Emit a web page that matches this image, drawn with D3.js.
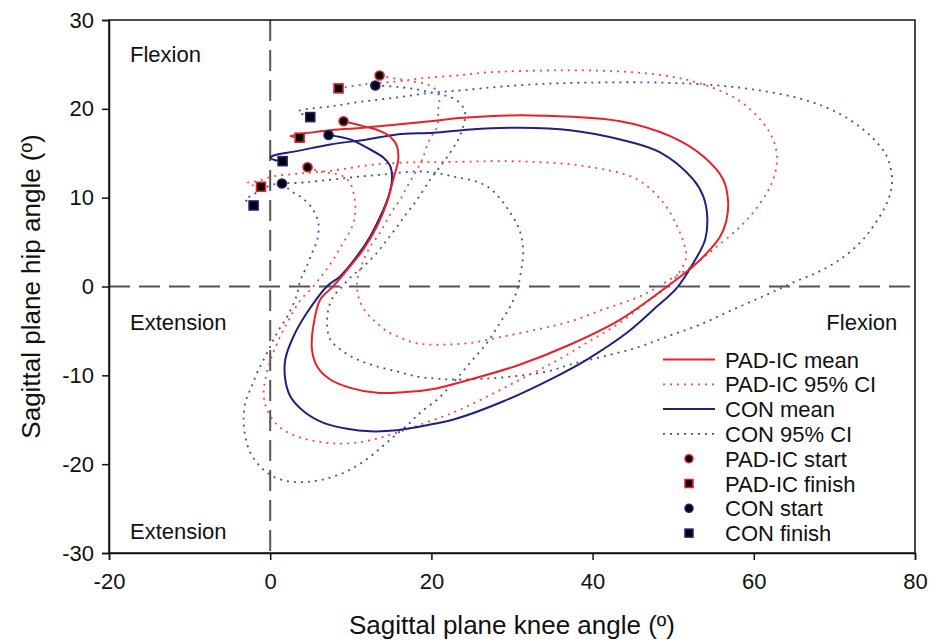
<!DOCTYPE html>
<html>
<head>
<meta charset="utf-8">
<script src="https://cdn.jsdelivr.net/npm/d3@7"></script>
<style>
  body { margin:0; background:#fff; }
  svg text { font-family: "Liberation Sans", Arial, sans-serif; fill:#111; }
</style>
</head>
<body>
<div id="chart-area"></div>
<script>
// knee angle (x), hip angle (y)
var padMean = [[9.10,18.61],[11.55,18.05],[13.65,17.49],[14.90,16.86],[15.73,15.80],[15.89,14.30],[15.73,13.55],[15.27,12.05],[14.49,9.46],[13.25,6.79],[11.55,4.17],[9.93,2.29],[7.82,0.03],[6.21,-1.46],[5.35,-4.47],[5.18,-7.09],[5.80,-8.98],[7.45,-10.47],[9.94,-11.41],[13.25,-11.97],[16.51,-11.90],[19.86,-11.60],[24.82,-10.47],[31.02,-8.78],[37.22,-6.53],[43.43,-3.72],[48.76,-0.34],[52.48,2.27],[54.58,4.17],[55.83,5.63],[56.57,7.32],[56.82,9.46],[56.20,12.05],[53.72,14.67],[49.63,16.93],[43.43,18.61],[32.26,19.26],[23.95,19.00],[19.86,18.61],[15.73,18.24],[11.55,17.87],[7.45,17.60],[2.49,16.93],[3.65,16.75]];

var padUpper = [[13.57,23.76],[15.77,23.37],[17.75,23.09],[19.49,22.75],[20.73,21.96],[20.98,21.06],[20.85,19.93],[20.73,18.02],[20.23,17.23],[19.61,16.22],[18.87,14.30],[18.00,12.84],[17.01,11.26],[16.14,9.80],[15.27,8.67],[14.53,7.54],[13.66,6.08],[12.42,4.50],[11.42,2.59],[10.80,0.79],[10.80,-0.34],[11.05,-1.46],[11.92,-2.93],[13.16,-4.05],[14.53,-5.07],[16.14,-5.74],[17.75,-6.31],[19.49,-6.53],[21.97,-6.53],[25.19,-6.31],[28.91,-5.63],[33.13,-4.84],[37.22,-3.94],[41.32,-2.59],[45.53,-1.24],[47.77,-0.23],[50.00,1.01],[52.48,2.36],[54.96,4.17],[57.94,6.42],[59.92,8.33],[61.66,10.59],[62.40,12.05],[62.90,14.30],[62.40,16.55],[60.79,18.81],[57.94,21.06],[53.72,22.75],[49.63,23.65],[43.43,24.21],[35.12,24.32],[26.93,24.10],[23.95,23.82],[18.62,23.42],[15.77,23.09],[11.55,22.75],[8.48,22.30]];

var padLower = [[4.64,13.43],[6.21,12.95],[7.83,12.73],[9.07,12.39],[9.94,11.60],[10.43,10.13],[10.56,8.33],[10.18,6.76],[9.07,4.95],[7.83,3.04],[6.59,1.46],[5.35,0.00],[3.73,-1.58],[2.12,-4.05],[0.38,-7.43],[-0.61,-10.47],[-0.79,-12.39],[-0.24,-14.19],[1.25,-15.88],[3.36,-16.89],[5.84,-17.45],[8.32,-17.68],[10.80,-17.57],[13.28,-17.12],[15.77,-16.44],[18.62,-15.54],[22.71,-14.19],[26.93,-12.39],[31.02,-10.47],[35.12,-8.56],[39.33,-6.31],[43.43,-4.05],[47.15,-1.46],[49.26,0.00],[50.74,1.58],[51.61,3.27],[51.36,4.73],[50.50,6.76],[48.76,9.46],[45.53,12.05],[39.33,13.51],[31.02,14.08],[22.34,14.02],[16.14,13.93],[12.04,13.63],[7.83,13.06],[3.73,12.73],[0.38,12.39],[-1.60,11.86],[-2.84,11.66],[-2.10,11.37],[-1.14,11.23]];

var conMean = [[7.24,17.06],[9.94,16.55],[12.01,15.62],[14.07,14.49],[14.90,13.55],[15.11,12.05],[14.69,10.17],[13.87,8.30],[12.42,5.66],[10.77,3.41],[8.70,1.16],[7.05,0.03],[4.56,-2.96],[2.90,-5.60],[1.87,-8.22],[1.87,-10.47],[2.49,-12.35],[4.14,-14.04],[6.62,-15.35],[9.53,-16.02],[12.42,-16.30],[15.73,-16.18],[19.86,-15.54],[22.75,-14.98],[28.95,-12.92],[35.15,-10.28],[39.30,-8.22],[44.26,-5.21],[47.56,-2.59],[50.46,-0.15],[52.52,2.67],[53.97,5.29],[54.22,7.92],[53.72,10.17],[52.48,12.05],[48.38,15.09],[43.43,16.55],[37.22,17.60],[31.02,17.87],[24.82,17.68],[20.27,17.31],[15.73,17.12],[12.01,16.55],[7.45,15.99],[3.32,15.24],[0.42,14.75],[0.01,14.49],[0.63,14.22],[1.54,14.11]];

var conUpper = [[13.04,22.63],[15.77,22.47],[18.25,22.18],[19.86,21.85],[21.47,21.56],[22.96,21.06],[23.95,20.16],[24.20,19.37],[23.95,18.02],[23.33,16.55],[22.34,15.09],[21.10,13.51],[19.86,12.05],[18.25,9.80],[17.01,8.33],[15.77,6.76],[14.53,5.29],[13.28,3.83],[11.55,2.25],[9.94,1.01],[8.70,-0.23],[7.83,-1.13],[7.21,-2.59],[7.08,-4.50],[7.45,-5.97],[8.70,-7.09],[10.80,-8.22],[13.28,-9.01],[15.77,-9.57],[18.25,-10.14],[20.48,-10.36],[22.71,-10.47],[26.93,-10.36],[31.02,-10.02],[34.37,-9.57],[37.22,-8.78],[41.32,-7.88],[45.53,-6.87],[49.26,-5.63],[53.35,-4.28],[57.44,-2.59],[61.66,-0.90],[64.88,0.45],[67.86,1.58],[70.71,3.04],[73.19,4.95],[74.81,6.76],[76.54,9.46],[77.16,11.71],[76.67,14.30],[75.68,15.77],[73.57,17.68],[70.34,19.59],[66.12,21.06],[59.92,22.18],[53.72,22.75],[47.52,22.97],[41.32,22.97],[35.12,22.86],[28.91,22.52],[23.95,22.11],[19.86,21.79],[15.77,21.28],[11.55,20.83],[7.45,20.27],[3.49,19.71],[4.97,19.07]];

var conLower = [[1.46,11.60],[2.87,10.59],[3.98,9.97],[5.22,8.78],[5.97,7.21],[5.84,5.29],[5.22,3.83],[4.35,1.91],[3.73,0.68],[3.24,-1.13],[2.12,-3.38],[0.88,-5.18],[-0.36,-7.43],[-1.60,-9.68],[-2.47,-11.60],[-3.09,-13.06],[-3.30,-14.98],[-3.09,-16.89],[-2.47,-18.69],[-1.23,-20.27],[0.38,-21.40],[2.49,-21.96],[4.97,-21.96],[7.45,-21.51],[9.94,-20.61],[12.42,-19.14],[14.90,-17.23],[17.38,-15.31],[18.62,-14.19],[20.73,-12.72],[22.71,-10.81],[24.82,-8.56],[26.93,-6.31],[28.54,-4.05],[29.78,-2.25],[30.65,-0.34],[31.15,1.91],[31.39,3.83],[31.02,6.08],[29.78,8.33],[26.93,11.26],[22.71,12.39],[18.62,12.95],[14.03,12.61],[9.94,12.27],[5.84,11.86],[3.73,11.68],[0.38,11.49],[-0.98,10.92],[-2.47,10.17],[-3.09,9.80],[-2.06,9.12]];

// start / finish markers (upper CI, mean, lower CI)
var padStart  = [[13.57,23.76],[9.10,18.61],[4.64,13.43]];
var padFinish = [[8.48,22.30],[3.65,16.75],[-1.14,11.23]];
var conStart  = [[13.04,22.63],[7.24,17.06],[1.46,11.60]];
var conFinish = [[4.97,19.07],[1.54,14.11],[-2.06,9.12]];

var xTicks = [-20, 0, 20, 40, 60, 80];
var yTicks = [-30, -20, -10, 0, 10, 20, 30];
var regionLabels = [["Flexion",-17.4,25.3,"start"],["Extension",-17.4,-4.95,"start"],["Flexion",77.8,-4.95,"end"],["Extension",-17.4,-28.4,"start"]];
var legendLabels = ["PAD-IC mean","PAD-IC 95% CI","CON mean","CON 95% CI","PAD-IC start","PAD-IC finish","CON start","CON finish"];

var red = "#e8202a", navy = "#20207f", redDot = "#ee4a4a", navyDot = "#4c4ca8";

// set margin
var margin = {left:109, right:15, top:20, bottom:89};
var width = 930 - margin.left - margin.right;
var height = 642 - margin.top - margin.bottom;

var x = d3.scaleLinear().domain([-20,80]).range([0,width]);
var y = d3.scaleLinear().domain([-30,30]).range([height,0]);

var svg = d3.select("#chart-area")
    .append("svg")
    .attr("width", width + margin.left + margin.right)
    .attr("height", height + margin.top + margin.bottom);

var g = svg.append("g")
    .attr("transform","translate(" + margin.left + "," + margin.top + ")");

// zero lines
g.append("line")
  .attr("x1", x(0)).attr("x2", x(0)).attr("y1", 0).attr("y2", height)
  .attr("stroke","#555").attr("stroke-width",2).attr("stroke-dasharray","21,9");
g.append("line")
  .attr("x1", 0).attr("x2", width).attr("y1", y(0)).attr("y2", y(0))
  .attr("stroke","#555").attr("stroke-width",2).attr("stroke-dasharray","21,9");

// curves
var line = d3.line()
    .x(function(d){ return x(d[0]); })
    .y(function(d){ return y(d[1]); })
    .curve(d3.curveCatmullRom.alpha(0.5));

var curves = [
  {data: conUpper, color: navyDot, dash: "2,5", w: 1.8},
  {data: conLower, color: navyDot, dash: "2,5", w: 1.8},
  {data: padUpper, color: redDot, dash: "2,5", w: 1.8},
  {data: padLower, color: redDot, dash: "2,5", w: 1.8},
  {data: conMean, color: navy, dash: null, w: 2},
  {data: padMean, color: red, dash: null, w: 2}
];

g.selectAll("path.curve")
  .data(curves)
  .enter()
  .append("path")
  .attr("class","curve")
  .attr("d", function(d){ return line(d.data); })
  .attr("fill","none")
  .attr("stroke", function(d){ return d.color; })
  .attr("stroke-width", function(d){ return d.w; })
  .attr("stroke-dasharray", function(d){ return d.dash; });

// markers
function circles(data, color){
  g.selectAll(null).data(data).enter().append("circle")
    .attr("cx", function(d){ return x(d[0]); })
    .attr("cy", function(d){ return y(d[1]); })
    .attr("r", 4.5)
    .attr("fill","#000").attr("stroke", color).attr("stroke-width",1.6);
}
function squares(data, color){
  g.selectAll(null).data(data).enter().append("rect")
    .attr("x", function(d){ return x(d[0]) - 4.5; })
    .attr("y", function(d){ return y(d[1]) - 4.5; })
    .attr("width", 9).attr("height", 9)
    .attr("fill","#000").attr("stroke", color).attr("stroke-width",1.6);
}
squares(conFinish, navy);
squares(padFinish, red);
circles(conStart, navy);
circles(padStart, red);

// frame
g.append("rect").attr("width", width).attr("height", height)
  .attr("fill","none").attr("stroke","#111").attr("stroke-width",1.5);

// axes
var leftAxis = d3.axisLeft(y).tickValues(yTicks).tickSize(7).tickPadding(8)
    .tickFormat(function(d){ return String(d); });
var bottomAxis = d3.axisBottom(x).tickValues(xTicks).tickSize(7).tickPadding(13)
    .tickFormat(function(d){ return String(d); });

var ya = g.append("g").call(leftAxis);
var xa = g.append("g").attr("transform","translate(0," + height + ")").call(bottomAxis);
[ya, xa].forEach(function(a){
  a.select(".domain").attr("stroke","#111").attr("stroke-width",1.5);
  a.selectAll(".tick line").attr("stroke","#111").attr("stroke-width",1.5);
  a.selectAll("text").attr("font-size",22).attr("font-family","Liberation Sans, Arial, sans-serif").attr("fill","#222");
});

// region labels
g.selectAll("text.region").data(regionLabels).enter().append("text")
  .attr("class","region")
  .attr("x", function(d){ return x(d[1]); })
  .attr("y", function(d){ return y(d[2]); })
  .attr("text-anchor", function(d){ return d[3]; })
  .attr("font-size", 22)
  .text(function(d){ return d[0]; });

// axis titles
svg.append("text")
  .attr("x", margin.left + width/2).attr("y", 634)
  .attr("text-anchor","middle").attr("font-size",26)
  .text("Sagittal plane knee angle (º)");
svg.append("text")
  .attr("transform","translate(40," + (margin.top + height/2) + ") rotate(-90)")
  .attr("text-anchor","middle").attr("font-size",26)
  .text("Sagittal plane hip angle (º)");

// legend
var leg = svg.append("g").attr("transform","translate(663,359.5)");
var legStyle = [
  {type:"line", color: red, dash: null},
  {type:"line", color: redDot, dash: "2,5"},
  {type:"line", color: navy, dash: null},
  {type:"line", color: navyDot, dash: "2,5"},
  {type:"circle", color: red},
  {type:"square", color: red},
  {type:"circle", color: navy},
  {type:"square", color: navy}
];
legendLabels.forEach(function(label, i){
  var row = leg.append("g").attr("transform","translate(0," + (i*24.8) + ")");
  var s = legStyle[i];
  if (s.type == "line") {
    row.append("line").attr("x1",0).attr("x2",52).attr("y1",0).attr("y2",0)
      .attr("stroke", s.color).attr("stroke-width", s.dash ? 1.8 : 2)
      .attr("stroke-dasharray", s.dash);
  } else if (s.type == "circle") {
    row.append("circle").attr("cx",26).attr("cy",0).attr("r",4)
      .attr("fill","#000").attr("stroke", s.color).attr("stroke-width",1.5);
  } else {
    row.append("rect").attr("x",22).attr("y",-4).attr("width",8).attr("height",8)
      .attr("fill","#000").attr("stroke", s.color).attr("stroke-width",1.5);
  }
  row.append("text").attr("x",62).attr("y",8).attr("font-size",22).text(label);
});
</script>
</body>
</html>
